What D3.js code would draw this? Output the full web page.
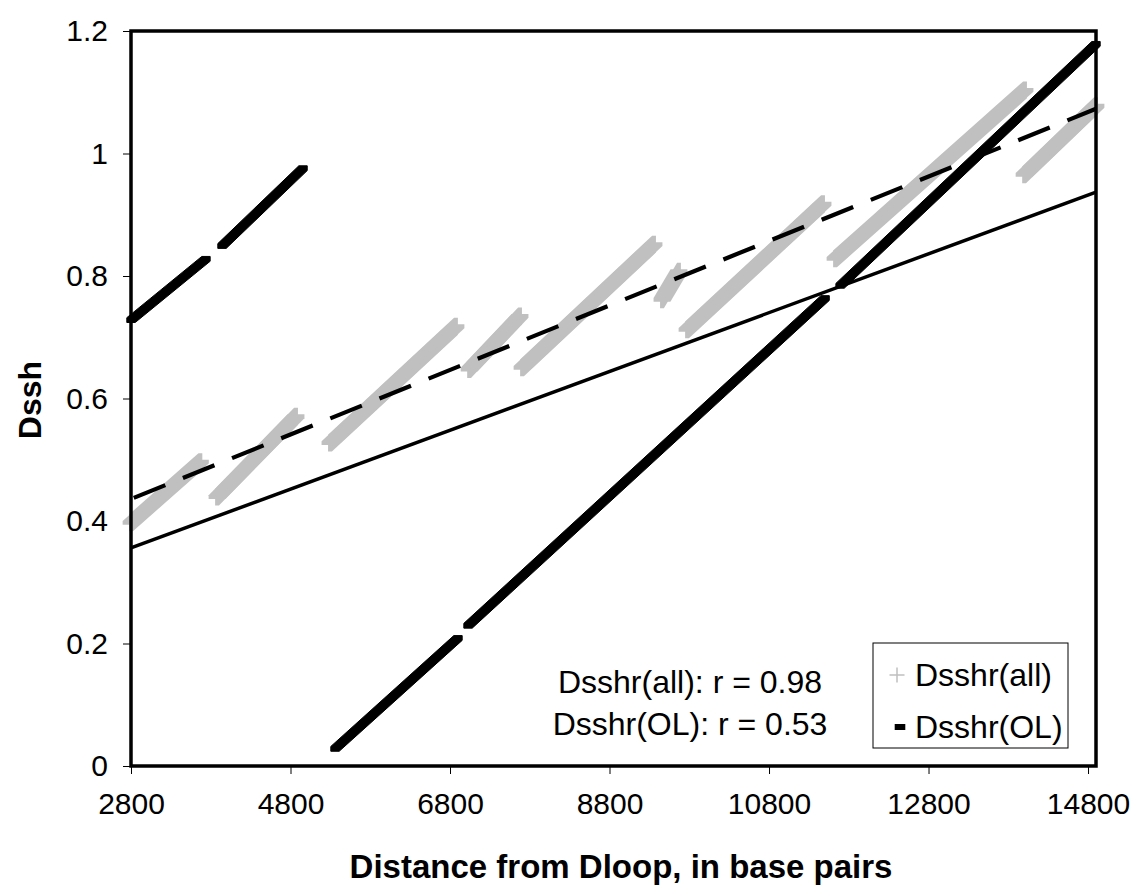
<!DOCTYPE html>
<html>
<head>
<meta charset="utf-8">
<script src="https://cdn.jsdelivr.net/npm/d3@7"></script>
<style>
body { margin: 0; background: #fff; }
text { font-family: "Liberation Sans", Arial, sans-serif; }
</style>
</head>
<body>
<div id="chart-area"></div>
<script>
// runs of dense markers: [x0, y0, x1, y1]
const allRuns = [
	[2800, 0.397, 3670, 0.497],
	[3879, 0.439, 4869, 0.571],
	[5295, 0.527, 6875, 0.718],
	[7039, 0.647, 7678, 0.735],
	[7703, 0.650, 9358, 0.852],
	[9458, 0.761, 9671, 0.808],
	[9772, 0.712, 11477, 0.918],
	[11628, 0.828, 14010, 1.104],
	[13998, 0.965, 14900, 1.078]
]
const olRuns = [
	[2800, 0.728, 3740, 0.828],
	[3941, 0.849, 4957, 0.976],
	[5358, 0.028, 6900, 0.209],
	[7026, 0.229, 11503, 0.764],
	[11691, 0.784, 14900, 1.179]
]
const trendDashed = [[2800, 0.436], [14900, 1.073]]
const trendSolid = [[2800, 0.356], [14900, 0.937]]
const xTicks = [2800, 4800, 6800, 8800, 10800, 12800, 14800]
const yTicks = [0, 0.2, 0.4, 0.6, 0.8, 1, 1.2]
const rLabels = ["Dsshr(all): r = 0.98", "Dsshr(OL): r = 0.53"]
const seriesNames = ["Dsshr(all)", "Dsshr(OL)"]

const MARGIN = { LEFT: 131, RIGHT: 34, TOP: 31, BOTTOM: 121 }
const WIDTH = 1130 - MARGIN.LEFT - MARGIN.RIGHT
const HEIGHT = 887 - MARGIN.TOP - MARGIN.BOTTOM
const FONT = 32
const TICK_FONT = 30
const GRAY = "#c0c0c0"

const svg = d3.select("#chart-area").append("svg")
	.attr("width", 1130)
	.attr("height", 887)

const g = svg.append("g")
	.attr("transform", `translate(${MARGIN.LEFT}, ${MARGIN.TOP})`)

const x = d3.scaleLinear().domain([2800, 14900]).range([0, WIDTH])
const y = d3.scaleLinear().domain([0, 1.2]).range([HEIGHT, 0])

// marker shapes (pixels), swept from start to end of a run
const H = 8.4, T = 1.9
const plusArms = [
	[[-H, -T], [H, -T], [H, T], [-H, T]],
	[[-T, -H], [T, -H], [T, H], [-T, H]]
]
const dashShape = [[-4.2, -2.4], [4.2, -2.4], [4.2, 2.4], [-4.2, 2.4]]

function sweep(r, shape) {
	const x0 = x(r[0]), y0 = y(r[1]), x1 = x(r[2]), y1 = y(r[3])
	const pts = shape.map(p => [x0 + p[0], y0 + p[1]])
		.concat(shape.map(p => [x1 + p[0], y1 + p[1]]))
	return "M" + d3.polygonHull(pts).join("L") + "Z"
}

// axes
const yAxis = d3.axisLeft(y).tickValues(yTicks).tickSize(8).tickPadding(15)
	.tickFormat(d => String(d))
const xAxis = d3.axisBottom(x).tickValues(xTicks).tickSize(8).tickPadding(19)
	.tickFormat(d3.format("d"))

const yg = g.append("g").call(yAxis)
const xg = g.append("g").attr("transform", `translate(0, ${HEIGHT})`).call(xAxis)
;[yg, xg].forEach(a => {
	a.select(".domain").remove()
	a.selectAll("line").attr("stroke", "#000").attr("stroke-width", 1)
	a.selectAll("text").attr("font-size", TICK_FONT).attr("fill", "#000")
		.attr("font-family", '"Liberation Sans", Arial, sans-serif')
})

// gray + markers
allRuns.forEach(r => {
	plusArms.forEach(arm => {
		g.append("path").attr("d", sweep(r, arm)).attr("fill", GRAY)
	})
})

// black - markers
g.selectAll(".ol").data(olRuns).enter()
	.append("path")
	.attr("class", "ol")
	.attr("d", d => sweep(d, dashShape))
	.attr("fill", "#000")
	.attr("stroke", "#000")
	.attr("stroke-width", 1)
	.attr("stroke-linejoin", "round")

// trend lines
const line = d3.line().x(d => x(d[0])).y(d => y(d[1]))
g.append("path").datum(trendSolid)
	.attr("d", line).attr("fill", "none")
	.attr("stroke", "#000").attr("stroke-width", 3.5)
g.append("path").datum(trendDashed)
	.attr("d", line).attr("fill", "none")
	.attr("stroke", "#000").attr("stroke-width", 4.2)
	.attr("stroke-dasharray", "34,19").attr("stroke-dashoffset", -3)

// plot frame
g.append("rect")
	.attr("width", WIDTH).attr("height", HEIGHT)
	.attr("fill", "none").attr("stroke", "#000").attr("stroke-width", 3.5)

// r annotation
g.selectAll(".rlab").data(rLabels).enter()
	.append("text")
	.attr("x", 559)
	.attr("y", (d, i) => 662 + i * 42)
	.attr("text-anchor", "middle")
	.attr("font-size", FONT)
	.text(d => d)

// legend
const legend = g.append("g").attr("transform", "translate(742, 612)")
legend.append("rect")
	.attr("width", 195).attr("height", 105)
	.attr("fill", "#fff").attr("stroke", "#000").attr("stroke-width", 1)
seriesNames.forEach((name, i) => {
	const row = legend.append("g").attr("transform", `translate(24, ${32 + i * 52})`)
	if (i === 0) {
		row.append("path").attr("d", "M-7.5,0H7.5M0,-7.5V7.5")
			.attr("stroke", GRAY).attr("stroke-width", 1.5)
	} else {
		row.append("rect").attr("x", -2.3).attr("y", -3).attr("width", 10.6).attr("height", 6)
			.attr("fill", "#000")
	}
	row.append("text").attr("x", 18).attr("y", 0).attr("dy", "0.35em")
		.attr("font-size", FONT).text(name)
})

// axis titles
svg.append("text")
	.attr("x", 621)
	.attr("y", 878)
	.attr("text-anchor", "middle")
	.attr("font-size", 33).attr("font-weight", "bold")
	.text("Distance from Dloop, in base pairs")
svg.append("text")
	.attr("transform", "translate(41, 400) rotate(-90)")
	.attr("text-anchor", "middle")
	.attr("font-size", FONT).attr("font-weight", "bold")
	.text("Dssh")
</script>
</body>
</html>
